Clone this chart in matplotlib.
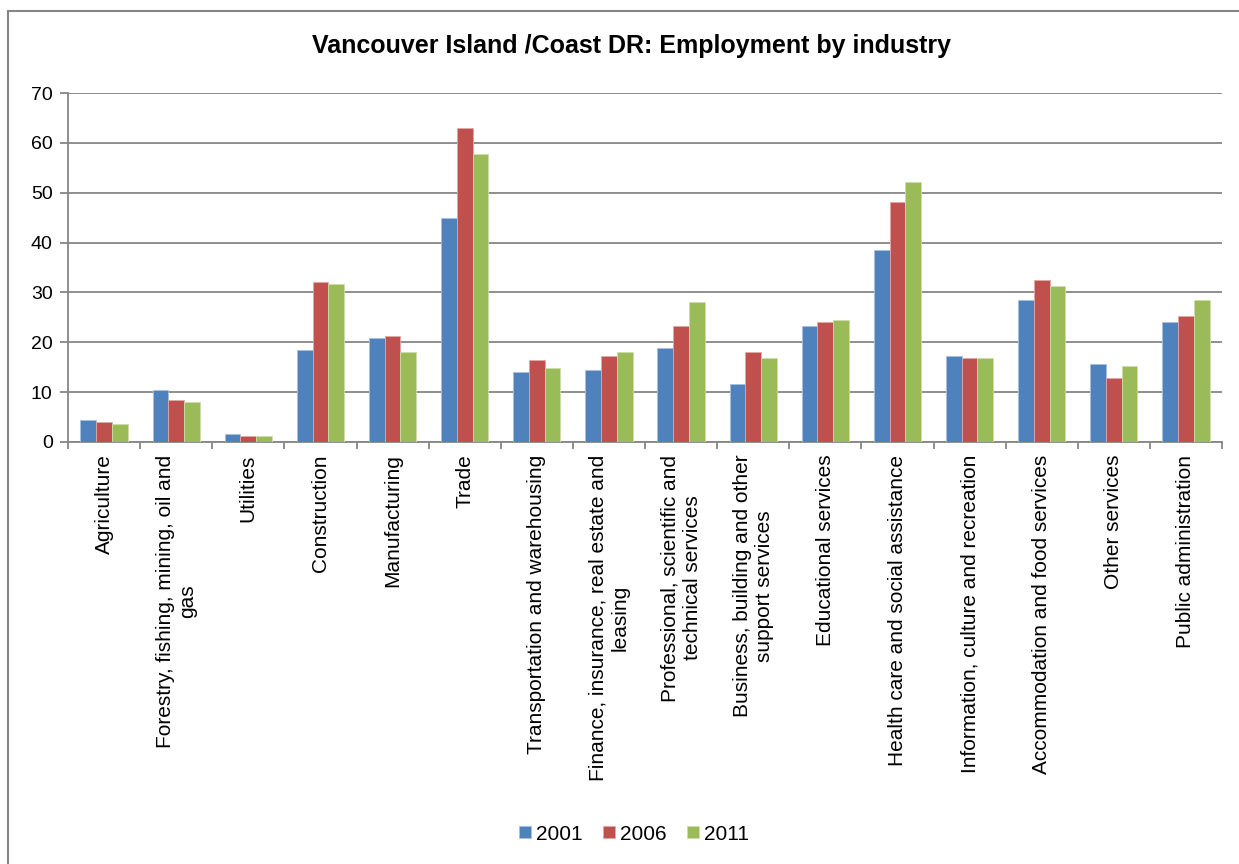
import matplotlib
matplotlib.use("Agg")
import matplotlib.pyplot as plt
import numpy as np
from matplotlib.patches import Rectangle

plt.rcParams['font.family'] = ['Liberation Sans', 'DejaVu Sans']

categories = [
    "Agriculture",
    "Forestry, fishing, mining, oil and\ngas",
    "Utilities",
    "Construction",
    "Manufacturing",
    "Trade",
    "Transportation and warehousing",
    "Finance, insurance, real estate and\nleasing",
    "Professional, scientific and\ntechnical services",
    "Business, building and other\nsupport services",
    "Educational services",
    "Health care and social assistance",
    "Information, culture and recreation",
    "Accommodation and food services",
    "Other services",
    "Public administration",
]

years = ["2001", "2006", "2011"]

emp_2001 = [4.5, 10.4, 1.7, 18.5, 20.9, 44.9, 14.0, 14.4, 18.9, 11.6, 23.2, 38.5, 17.2, 28.5, 15.6, 24.0]
emp_2006 = [4.1, 8.5, 1.2, 32.1, 21.3, 62.9, 16.4, 17.2, 23.2, 18.1, 24.0, 48.1, 16.8, 32.5, 12.8, 25.2]
emp_2011 = [3.7, 8.1, 1.2, 31.7, 18.1, 57.7, 14.8, 18.1, 28.1, 16.8, 24.4, 52.1, 16.8, 31.3, 15.2, 28.5]

colors = ["#4F81BD", "#C0504D", "#9BBB59"]
edges = ["#A7C0DE", "#DFA8A6", "#CDDDAC"]
grid_col = "#868686"

W, H = 1239, 864
fig = plt.figure(figsize=(W / 100, H / 100), dpi=100)
fig.patch.set_facecolor("white")

# outer chart frame
fig.add_artist(Rectangle((8 / W, -0.1), 1.2, 1 - 11 / H + 0.1, transform=fig.transFigure,
                         fill=False, edgecolor=grid_col, linewidth=1.5))

ax = fig.add_axes([68 / W, 1 - 442 / H, (1222 - 68) / W, (442 - 93) / H])

x = np.arange(len(categories))
bw = 0.218
for k, (vals, c, e, lab) in enumerate(zip([emp_2001, emp_2006, emp_2011], colors, edges, years)):
    ax.bar(x + (k - 1) * bw, vals, width=bw, color=c, edgecolor=e, linewidth=0.6,
           label=lab, zorder=3)

ax.set_xlim(-0.5, len(categories) - 0.5)
ax.set_ylim(0, 70)
ax.set_yticks(np.arange(0, 71, 10))
ax.yaxis.grid(True, color=grid_col, linewidth=1.3, zorder=0)
ax.set_axisbelow(True)

ax.set_xticks(np.arange(-0.5, len(categories), 1.0), minor=False)
ax.set_xticklabels([])
ax.set_xticks(x, minor=True)
ax.set_xticklabels(categories, minor=True, rotation=90, ha="center", va="top",
                   fontsize=15, linespacing=1.2, multialignment="center")
ax.tick_params(axis="x", which="minor", length=0, pad=9)
ax.tick_params(axis="x", which="major", length=5, width=1.3, color=grid_col, direction="out")
ax.tick_params(axis="y", length=6, width=1.3, color=grid_col, labelsize=14, pad=5)

for s in ["top", "right"]:
    ax.spines[s].set_visible(False)
for s in ["left", "bottom"]:
    ax.spines[s].set_color(grid_col)
    ax.spines[s].set_linewidth(1.3)

fig.text(631 / W, 1 - 46 / H, "Vancouver Island /Coast DR: Employment by industry",
         ha="center", va="center", fontsize=18, fontweight="bold")

fig.legend(loc="center", bbox_to_anchor=(634 / W, 1 - 834 / H), ncol=3, frameon=False,
           fontsize=15, handlelength=0.55, handleheight=0.55, handletextpad=0.25,
           columnspacing=1.0, borderpad=0)

fig.savefig("out.png", dpi=100, facecolor="white")
